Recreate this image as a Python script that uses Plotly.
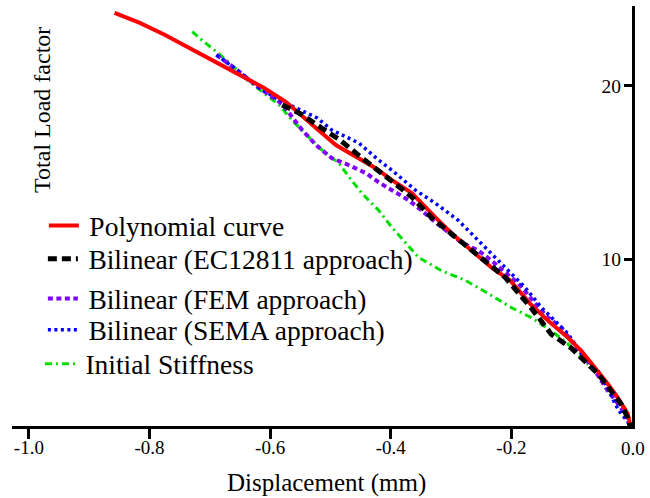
import plotly.graph_objects as go

# ---- data ----
poly_x = [-0.858, -0.817, -0.775, -0.734, -0.693, -0.651, -0.610, -0.574, -0.552,
          -0.524, -0.491, -0.453, -0.425, -0.398, -0.365,
          -0.326, -0.299, -0.266, -0.233, -0.202, -0.169, -0.139, -0.106, -0.084, -0.061,
          -0.040, -0.023, -0.007, 0.0]
poly_y = [24.21, 23.64, 22.94, 22.19, 21.38, 20.63, 19.88, 19.08, 18.44,
          17.57, 16.59, 15.84, 15.26, 14.57, 13.82,
          12.43, 11.50, 10.52, 9.54, 8.79, 7.46, 6.47, 5.49, 4.74, 3.76,
          2.83, 2.02, 1.10, 0.0]

ec_x = [-0.580, -0.550, -0.520, -0.485, -0.453, -0.415, -0.392, -0.365, -0.332, -0.304,
        -0.250, -0.210, -0.167, -0.134, -0.101, -0.056, -0.018, -0.007, 0.0]
ec_y = [18.90, 18.40, 17.70, 16.90, 16.00, 14.97, 14.40, 13.60, 12.40, 11.60,
        10.10, 8.96, 7.20, 5.70, 4.90, 3.40, 1.67, 0.87, 0.0]

fem_x = [-0.689, -0.651, -0.618, -0.580, -0.547, -0.524, -0.498, -0.469, -0.441, -0.420,
         -0.398, -0.370, -0.349, -0.326, -0.304, -0.283, -0.255, -0.233, -0.210, -0.188,
         -0.160, -0.139, -0.117, -0.101, -0.078, -0.061, -0.040, -0.023, -0.007, 0.0]
fem_y = [21.79, 20.81, 19.88, 18.96, 17.46, 16.59, 15.84, 15.43, 14.97, 14.45,
         13.99, 13.41, 12.83, 12.14, 11.56, 10.98, 10.52, 9.94, 9.25, 8.61,
         7.46, 6.65, 6.07, 5.32, 4.34, 3.58, 2.43, 1.68, 0.87, 0.0]

sema_x = [-0.689, -0.651, -0.618, -0.585, -0.557, -0.522, -0.498, -0.453, -0.420, -0.398,
          -0.359, -0.326, -0.288, -0.250, -0.217, -0.177, -0.150, -0.127, -0.106, -0.084,
          -0.056, -0.040, -0.028, -0.018, -0.007, 0.0]
sema_y = [21.79, 20.81, 19.88, 19.19, 18.73, 18.15, 17.46, 16.71, 15.72, 15.14,
          13.99, 13.24, 12.25, 10.92, 9.77, 8.38, 7.23, 6.47, 5.72, 4.57,
          3.58, 2.60, 1.68, 1.10, 0.69, 0.0]

init_x = [-0.729, -0.712, -0.689, -0.664, -0.638, -0.610, -0.585, -0.564, -0.536, -0.514,
          -0.486, -0.469, -0.448, -0.420, -0.398, -0.375, -0.354, -0.316, -0.276, -0.238,
          -0.200, -0.167, -0.134, -0.106, -0.084, -0.061, -0.040, -0.012, 0.0]
init_y = [23.12, 22.60, 21.97, 21.21, 20.35, 19.60, 18.90, 18.03, 17.05, 16.30,
          15.55, 14.74, 13.82, 12.83, 11.85, 10.92, 10.12, 9.36, 8.79, 8.03,
          7.23, 6.65, 5.90, 5.14, 4.34, 3.58, 2.83, 1.45, 0.0]

x_ticks = [-1.0, -0.8, -0.6, -0.4, -0.2, 0.0]
x_tick_labels = ["-1.0", "-0.8", "-0.6", "-0.4", "-0.2", "0.0"]
y_ticks = [10, 20]
y_tick_labels = ["10", "20"]

FONT = "Liberation Serif"
TS = "\u2009"  # thin space between legend symbol and text

fig = go.Figure()

fig.add_trace(go.Scatter(x=init_x, y=init_y, mode="lines", name=TS + "Initial Stiffness",
                         line=dict(color="#00dd00", width=3, dash="7px,4px,2px,4px"),
                         legend="legend5"))
fig.add_trace(go.Scatter(x=fem_x, y=fem_y, mode="lines", name=TS + "Bilinear (FEM approach)",
                         line=dict(color="#8000ff", width=4, dash="5px,3.5px"),
                         legend="legend3"))
fig.add_trace(go.Scatter(x=sema_x, y=sema_y, mode="lines", name=TS + "Bilinear (SEMA approach)",
                         line=dict(color="#0000ff", width=3.5, dash="3px,3.5px"),
                         legend="legend4"))
fig.add_trace(go.Scatter(x=poly_x, y=poly_y, mode="lines", name=TS + "Polynomial curve",
                         line=dict(color="#ff0000", width=4), legend="legend"))
fig.add_trace(go.Scatter(x=ec_x, y=ec_y, mode="lines", name=TS + "Bilinear (EC12811 approach)",
                         line=dict(color="#000000", width=5, dash="9px,5px"),
                         legend="legend2"))


def leg(xp, yc):
    return dict(x=xp, y=yc, xanchor="left", yanchor="middle",
                bgcolor="rgba(0,0,0,0)", borderwidth=0,
                font=dict(family=FONT, size=27.5, color="black"),
                itemwidth=30)


fig.update_layout(
    width=650, height=498,
    margin=dict(l=12, r=16, t=6, b=72),
    paper_bgcolor="white", plot_bgcolor="white",
    font=dict(family=FONT, color="black", size=20),
    showlegend=True,
    legend=leg(0.0514, 0.4770),
    legend2=leg(0.0498, 0.3980),
    legend3=leg(0.0498, 0.3030),
    legend4=leg(0.0498, 0.2290),
    legend5=leg(0.0450, 0.1480),
    xaxis=dict(range=[-1.028, 0.0], showgrid=False, zeroline=False,
               showline=True, linecolor="black", linewidth=3,
               ticks="outside", ticklen=10, tickwidth=3, tickcolor="black",
               tickvals=x_ticks, ticktext=x_tick_labels, ticklabelstandoff=-8,
               ticklabeloverflow="allow",
               tickfont=dict(family=FONT, size=19, color="black")),
    yaxis=dict(range=[0.41, 24.6], side="right", showgrid=False, zeroline=False,
               showline=True, linecolor="black", linewidth=3,
               ticks="inside", ticklen=8, tickwidth=3, tickcolor="black",
               ticklabelposition="inside", ticklabelstandoff=4,
               tickvals=y_ticks, ticktext=y_tick_labels,
               tickfont=dict(family=FONT, size=19.5, color="black")),
)

# the end label of the x axis is hidden by plotly at the corner; draw it as text
fig.add_annotation(text=x_tick_labels[-1], xref="x", yref="paper",
                   x=x_ticks[-1], y=-0.0525, xanchor="center", yanchor="middle",
                   xshift=1, showarrow=False,
                   font=dict(family=FONT, size=19, color="black"))
fig.add_annotation(text="Total Load factor", xref="paper", yref="paper",
                   x=0.048, y=0.752, xanchor="center", yanchor="middle",
                   textangle=-90, showarrow=False,
                   font=dict(family=FONT, size=24, color="black"))
fig.add_annotation(text="Displacement (mm)", xref="paper", yref="paper",
                   x=0.508, y=-0.136, xanchor="center", yanchor="middle",
                   showarrow=False,
                   font=dict(family=FONT, size=25, color="black"))

fig.write_html("out.html", config={"displayModeBar": False},
               post_script="document.body.style.margin='0px';")
